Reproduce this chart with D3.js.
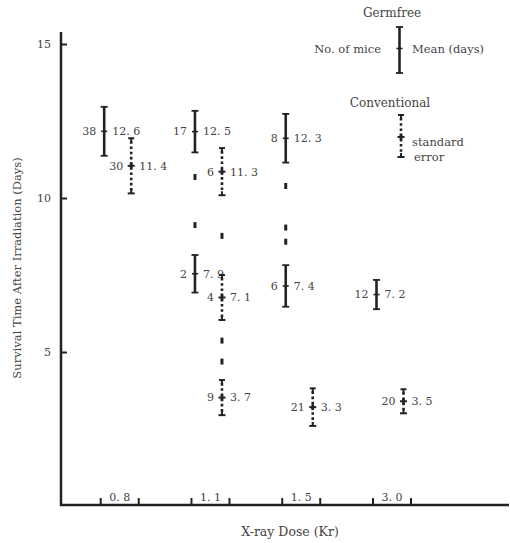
<!DOCTYPE html>
<html>
<head>
<meta charset="utf-8">
<script src="https://cdn.jsdelivr.net/npm/d3@7"></script>
<style>
  html, body { margin: 0; padding: 0; background: #fff; }
  svg { display: block; }
  text { font-family: "DejaVu Serif", "Liberation Serif", serif; fill: #444; }
</style>
</head>
<body>
<div id="chart"></div>
<script>
// ---------- data ----------
const doses = ["0.8", "1.1", "1.5", "3.0"];
const groups = ["Germfree", "Conventional"];

const barDose  = ["0.8", "0.8", "1.1", "1.1", "1.1", "1.1", "1.1", "1.5", "1.5", "1.5", "3.0", "3.0"];
const barGroup = ["Germfree", "Conventional", "Germfree", "Conventional", "Germfree", "Conventional",
                  "Conventional", "Germfree", "Germfree", "Conventional", "Germfree", "Conventional"];
const barN     = [38, 30, 17, 6, 2, 4, 9, 8, 6, 21, 12, 20];
const barMean  = [12.6, 11.4, 12.5, 11.3, 7.9, 7.1, 3.7, 12.3, 7.4, 3.3, 7.2, 3.5];
const barHigh  = [12.96, 11.94, 12.83, 11.62, 8.15, 7.50, 4.09, 12.73, 7.82, 3.82, 7.34, 3.79];
const barLow   = [11.37, 10.15, 11.48, 10.09, 6.93, 6.04, 2.95, 11.15, 6.47, 2.60, 6.39, 3.01];

// short dashes linking the clusters within one dose column
const dashDose  = ["1.1", "1.1", "1.1", "1.1", "1.1", "1.5", "1.5", "1.5"];
const dashGroup = ["Germfree", "Germfree", "Conventional", "Conventional", "Conventional",
                   "Germfree", "Germfree", "Germfree"];
const dashValue = [10.68, 9.12, 8.77, 5.37, 4.69, 10.39, 9.04, 8.58];

const yTicks = [5, 10, 15];

// ---------- layout ----------
const W = 510, H = 543;
const ink = "#222";
const fmt = v => d3.format(".1f")(v).replace(".", ". ");

const svg = d3.select("#chart").append("svg").attr("width", W).attr("height", H);

const x = d3.scalePoint().domain(doses).range([119.7, 392]);
const xg = d3.scalePoint().domain(groups).range([-15.5, 11.5]);
const y = d3.scaleLinear().domain([0, 15]).range([506, 44]);

const axisX0 = 61, axisXEnd = 509, axisY0 = 505, axisTop = 32;

// y axis
const yAxis = d3.axisLeft(y).tickValues(yTicks).tickSize(-6).tickPadding(10).tickFormat(d3.format("d"));
const gy = svg.append("g").attr("transform", `translate(${axisX0},0)`).call(yAxis);
gy.select(".domain").remove();
gy.selectAll(".tick line").attr("stroke", ink).attr("stroke-width", 2);
gy.selectAll(".tick text").attr("font-size", 11).attr("fill", "#555")
  .style("font-family", '"DejaVu Serif", serif');

svg.append("line").attr("x1", axisX0).attr("x2", axisX0).attr("y1", axisTop).attr("y2", axisY0 + 1)
  .attr("stroke", ink).attr("stroke-width", 2.5);
svg.append("line").attr("x1", axisX0 - 1).attr("x2", axisXEnd).attr("y1", axisY0).attr("y2", axisY0)
  .attr("stroke", ink).attr("stroke-width", 2.5);

// x axis: paired ticks around each dose label
const tickHalf = 19;
const gx = svg.append("g");
doses.forEach(d => {
  [-tickHalf, tickHalf].forEach(o => {
    gx.append("line").attr("x1", x(d) + o).attr("x2", x(d) + o)
      .attr("y1", axisY0).attr("y2", axisY0 - 7).attr("stroke", ink).attr("stroke-width", 2);
  });
  gx.append("text").attr("x", x(d)).attr("y", axisY0 - 4.5).attr("text-anchor", "middle")
    .attr("font-size", 11).attr("fill", "#555").text(d.replace(".", ". "));
});

// axis titles
svg.append("text").attr("transform", `translate(21,268) rotate(-90)`).attr("text-anchor", "middle")
  .attr("font-size", 11.5).attr("fill", "#555").text("Survival Time After Irradiation (Days)");
svg.append("text").attr("x", 290).attr("y", 536).attr("text-anchor", "middle")
  .attr("font-size", 12.5).attr("fill", "#555").text("X-ray Dose (Kr)");

// ---------- error bar drawing ----------
function drawBar(g, cx, yTop, yBot, yMid, dotted) {
  if (!dotted) {
    g.append("line").attr("x1", cx).attr("x2", cx).attr("y1", yTop).attr("y2", yBot)
      .attr("stroke", ink).attr("stroke-width", 2.6);
    [yTop, yBot].forEach(yy => g.append("line").attr("x1", cx - 3.5).attr("x2", cx + 3.5)
      .attr("y1", yy).attr("y2", yy).attr("stroke", ink).attr("stroke-width", 1.8));
    g.append("line").attr("x1", cx - 3).attr("x2", cx + 3).attr("y1", yMid).attr("y2", yMid)
      .attr("stroke", ink).attr("stroke-width", 1.6);
  } else {
    g.append("line").attr("x1", cx).attr("x2", cx).attr("y1", yTop + 3).attr("y2", yBot - 3)
      .attr("stroke", ink).attr("stroke-width", 2.6).attr("stroke-dasharray", "2.6 2.6");
    g.append("line").attr("x1", cx - 3).attr("x2", cx + 3).attr("y1", yTop).attr("y2", yTop)
      .attr("stroke", ink).attr("stroke-width", 2);
    g.append("line").attr("x1", cx).attr("x2", cx).attr("y1", yTop).attr("y2", yTop + 4)
      .attr("stroke", ink).attr("stroke-width", 2);
    g.append("line").attr("x1", cx - 3.5).attr("x2", cx + 3.5).attr("y1", yBot).attr("y2", yBot)
      .attr("stroke", ink).attr("stroke-width", 2);
    g.append("line").attr("x1", cx).attr("x2", cx).attr("y1", yBot).attr("y2", yBot - 4)
      .attr("stroke", ink).attr("stroke-width", 2);
    g.append("line").attr("x1", cx - 3.5).attr("x2", cx + 3.5).attr("y1", yMid).attr("y2", yMid)
      .attr("stroke", ink).attr("stroke-width", 2);
    g.append("line").attr("x1", cx).attr("x2", cx).attr("y1", yMid - 3).attr("y2", yMid + 3)
      .attr("stroke", ink).attr("stroke-width", 2.6);
  }
}

const bars = barN.map((n, i) => ({
  dose: barDose[i], group: barGroup[i], n, mean: barMean[i], hi: barHigh[i], lo: barLow[i]
}));

const gb = svg.append("g");
bars.forEach(b => {
  const cx = x(b.dose) + xg(b.group);
  const yTop = y(b.hi), yBot = y(b.lo), yMid = y((b.hi + b.lo) / 2);
  const g = gb.append("g");
  drawBar(g, cx, yTop, yBot, yMid, b.group === "Conventional");
  g.append("text").attr("x", cx - 8).attr("y", yMid).attr("dy", "0.35em").attr("text-anchor", "end")
    .attr("font-size", 11).text(b.n);
  g.append("text").attr("x", cx + 8).attr("y", yMid).attr("dy", "0.35em")
    .attr("font-size", 11).text(fmt(b.mean));
});

// linking dashes
dashValue.forEach((v, i) => {
  const cx = x(dashDose[i]) + xg(dashGroup[i]);
  svg.append("line").attr("x1", cx).attr("x2", cx).attr("y1", y(v) - 3).attr("y2", y(v) + 3)
    .attr("stroke", ink).attr("stroke-width", 3);
});

// ---------- legend ----------
const lg = svg.append("g");
lg.append("text").attr("x", 392).attr("y", 13).attr("dy", "0.35em").attr("text-anchor", "middle")
  .attr("font-size", 12).attr("fill", "#333").text("Germfree");
drawBar(lg, 399.5, 27, 73, 48.5, false);
lg.append("text").attr("x", 381).attr("y", 48.5).attr("dy", "0.35em").attr("text-anchor", "end")
  .attr("font-size", 11.5).attr("fill", "#333").text("No. of mice");
lg.append("text").attr("x", 412).attr("y", 48.5).attr("dy", "0.35em")
  .attr("font-size", 11.5).attr("fill", "#333").text("Mean (days)");
lg.append("text").attr("x", 390).attr("y", 103).attr("dy", "0.35em").attr("text-anchor", "middle")
  .attr("font-size", 12).attr("fill", "#333").text("Conventional");
drawBar(lg, 401, 115, 157, 137, true);
lg.append("text").attr("x", 412).attr("y", 142).attr("dy", "0.35em")
  .attr("font-size", 11.5).attr("fill", "#333").text("standard");
lg.append("text").attr("x", 414).attr("y", 156.5).attr("dy", "0.35em")
  .attr("font-size", 11.5).attr("fill", "#333").text("error");
</script>
</body>
</html>
